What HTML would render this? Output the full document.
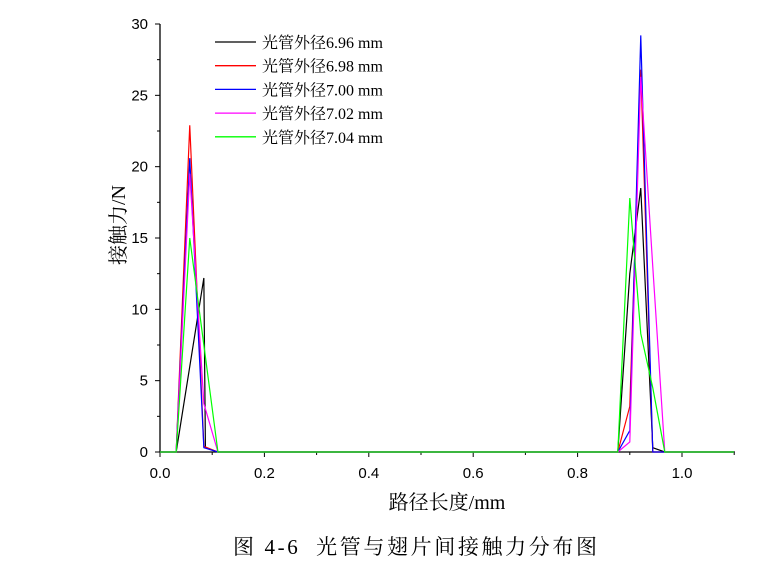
<!DOCTYPE html>
<html><head><meta charset="utf-8"><style>
body{margin:0;background:#fff;width:772px;height:569px;overflow:hidden}
svg text{font-family:"Liberation Serif","Noto Serif CJK SC",serif}
.tk{font-family:"Liberation Sans",sans-serif;font-size:15px}
</style></head><body>
<svg width="772" height="569">
<g id="axes"></g><g id="series"></g><g id="legend"></g>
<text x="125" y="225" font-size="20" text-anchor="middle" transform="rotate(-90 125 225)">接触力/N</text>
<text x="447" y="509" font-size="20" text-anchor="middle">路径长度/mm</text>
<text x="233" y="554" font-size="21" textLength="364" lengthAdjust="spacing" style="white-space:pre">图 4-6  光管与翅片间接触力分布图</text>
</svg>
<script>
const seriesNames=["光管外径6.96 mm","光管外径6.98 mm","光管外径7.00 mm","光管外径7.02 mm","光管外径7.04 mm"];
const seriesColors=["#000","#f00","#00f","#f0f","#0f0"];
const xBlack=[0,0.031,0.084,0.087,0.111,0.877,0.900,0.921,0.944,0.967,1.1];
const yBlack=[0,0,12.2,0.3,0,0,12.5,18.5,0.3,0,0];
const xRed=[0,0.031,0.057,0.084,0.111,0.877,0.900,0.921,0.944,0.967,1.1];
const yRed=[0,0,22.9,0.4,0,0,3.2,26.8,0,0,0];
const xBlue=[0,0.031,0.057,0.084,0.111,0.877,0.900,0.921,0.944,0.967,1.1];
const yBlue=[0,0,20.6,0.3,0,0,1.5,29.2,0,0,0];
const xMag=[0,0.031,0.057,0.084,0.111,0.877,0.900,0.921,0.944,0.967,1.1];
const yMag=[0,0,19.5,3.4,0,0,0.7,26.3,13,0,0];
const xGreen=[0,0.031,0.057,0.084,0.111,0.877,0.900,0.921,0.944,0.967,1.1];
const yGreen=[0,0,15.0,7.5,0,0,17.8,8.3,4.5,0,0];
const xTicks=["0.0","0.2","0.4","0.6","0.8","1.0"];
const yTicks=["0","5","10","15","20","25","30"];
const NS="http://www.w3.org/2000/svg";
const X=v=>160+v*522, Y=v=>452-v*428/30;
function mk(t,a,p){const e=document.createElementNS(NS,t);for(const k in a)e.setAttribute(k,a[k]);p.appendChild(e);return e;}
const ax=document.getElementById('axes');
let l=mk('line',{x1:160,y1:452,x2:735,y2:452,stroke:'#000','stroke-width':1.3},ax);


l=mk('line',{x1:160,y1:452,x2:160,y2:Y(30),stroke:'#000','stroke-width':1.3},ax);


for(let i=0;i<=11;i++){const v=i*0.1;mk('line',{x1:X(v),y1:452,x2:X(v),y2:452+(i%2?3:5),stroke:'#000'},ax);}
xTicks.forEach(s=>{const t=mk('text',{x:X(+s),y:478,'text-anchor':'middle',class:'tk'},ax);t.textContent=s;

});
for(let i=0;i<=12;i++){const v=i*2.5;mk('line',{x1:160-(i%2?3:5),y1:Y(v),x2:160,y2:Y(v),stroke:'#000'},ax);}
yTicks.forEach(s=>{const t=mk('text',{x:148,y:Y(+s)+5,'text-anchor':'end',class:'tk'},ax);t.textContent=s;

});
const sg=document.getElementById('series');
const data=[[xBlack,yBlack],[xRed,yRed],[xBlue,yBlue],[xMag,yMag],[xGreen,yGreen]];
data.forEach((d,i)=>{const p=mk('polyline',{points:d[0].map((x,j)=>X(x)+','+Y(d[1][j])).join(' '),fill:'none',stroke:seriesColors[i],'stroke-width':1.2},sg);

});
const lg=document.getElementById('legend');
seriesNames.forEach((n,i)=>{const y=42+i*23.7;
mk('line',{x1:215,y1:y,x2:256,y2:y,stroke:seriesColors[i],'stroke-width':1.3},lg);
const t=mk('text',{x:262,y:y+6,'font-size':16},lg);t.textContent=n;

});
</script>
</body></html>
